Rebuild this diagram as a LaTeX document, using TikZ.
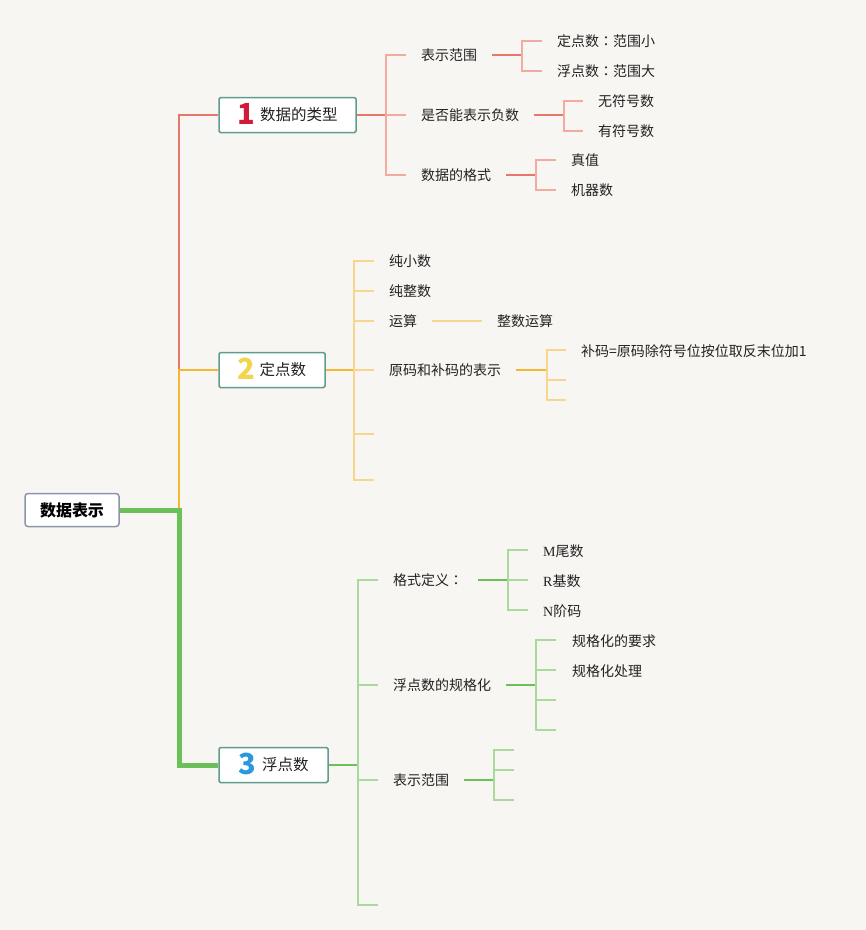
\documentclass[tikz,border=0pt]{standalone}
\usepackage{fontspec}
\usetikzlibrary{calc}
\setmainfont{Noto Sans CJK SC}
\newfontfamily\serifletter{Liberation Serif}
\newfontfamily\tcfont{Noto Sans CJK TC}
\definecolor{bgc}{HTML}{F8F6F2}
\definecolor{redM}{HTML}{E8766A}
\definecolor{redL}{HTML}{F3ABA0}
\definecolor{orM}{HTML}{F4B730}
\definecolor{orL}{HTML}{F8D58E}
\definecolor{grM}{HTML}{6CC05A}
\definecolor{grL}{HTML}{A9D99B}
\definecolor{tealB}{HTML}{5E9C8C}
\definecolor{rootB}{HTML}{8A94AA}
\definecolor{numA}{HTML}{D21A3A}
\definecolor{numB}{HTML}{F2D54A}
\definecolor{numC}{HTML}{2A98DC}
\definecolor{txt}{HTML}{222222}
\tikzset{
  topicbox/.style={draw=tealB, line width=1.5pt, fill=white, rounded corners=1.5pt,
    minimum height=35pt, inner sep=0pt, text=txt, font=\fontsize{15.5}{18}\selectfont},
  rootbox/.style={draw=rootB, line width=1.5pt, fill=white, rounded corners=3pt,
    minimum width=94pt, minimum height=33pt, inner sep=0pt, text=black,
    font=\fontsize{16}{18}\selectfont\bfseries},
  lbl/.style={anchor=west, inner sep=0pt, text=txt, font=\fontsize{14}{16}\selectfont},
  rm/.style={draw=redM, line width=2pt},
  rl/.style={draw=redL, line width=1.5pt},
  om/.style={draw=orM, line width=2pt},
  ol/.style={draw=orL, line width=1.5pt},
  gm/.style={draw=grM, line width=2pt},
  gl/.style={draw=grL, line width=1.5pt},
}
\begin{document}
\begin{tikzpicture}[x=1pt,y=-1pt]
\fill[bgc] (0,0) rectangle (866,930);
\useasboundingbox (0,0) rectangle (866,930);

% root and main topics
\node[rootbox] (root) at (72,510) {数据表示};
\node[topicbox, minimum width=137pt] (t1) at (287.5,115)
  {\smash{\raisebox{-3.5pt}{\color{numA}\fontsize{29}{29}\selectfont\bfseries 1}}\hspace{5pt}数据的类型};
\node[topicbox, minimum width=106pt] (t2) at (272,370)
  {\smash{\raisebox{-3.5pt}{\color{numB}\fontsize{29}{29}\selectfont\bfseries 2}}\hspace{4pt}定点数};
\node[topicbox, minimum width=109pt] (t3) at (273.5,765)
  {\smash{\raisebox{-3.5pt}{\color{numC}\fontsize{29}{29}\selectfont\bfseries 3}}\hspace{6pt}浮点数};

\coordinate (jA) at (179,510);
\coordinate (jB) at (179,370);
\draw[redM, line width=2pt] (jB) |- (t1.west);
\draw[orM, line width=2.5pt] (jA) -- (jB) -- (t2.west);
\draw[grM, line width=5pt] (root.east) -- (jA) |- (t3.west);

% ---------------- branch 1 ----------------
\coordinate (b1) at (386,115);
\draw[rm] (t1.east) -- (b1);
\node[lbl] (a1) at (421,55) {表示范围};
\node[lbl] (a2) at (421,115) {是否能表示负数};
\node[lbl] (a3) at (421,175) {数据的格式};
\draw[rl] ($(a1.west)+(-15,0)$) -- (386,55) -- (386,175) -- ($(a3.west)+(-15,0)$);
\draw[rl] (b1) -- ($(a2.west)+(-15,0)$);

% 表示范围
\node[lbl] (a11) at (557,41) {定点数{\tcfont ：}范围小};
\node[lbl] (a12) at (557,71) {浮点数{\tcfont ：}范围大};
\coordinate (a1j) at (522,55);
\draw[rm] (492,55) -- (a1j);
\draw[rl] ($(a11.west)+(-15,0)$) -- (522,41) -- (522,71) -- ($(a12.west)+(-15,0)$);
% 是否能表示负数
\node[lbl] (a21) at (598,101) {无符号数};
\node[lbl] (a22) at (598,131) {有符号数};
\coordinate (a2j) at (564,115);
\draw[rm] (534,115) -- (a2j);
\draw[rl] ($(a21.west)+(-15,0)$) -- (564,101) -- (564,131) -- ($(a22.west)+(-15,0)$);
% 数据的格式
\node[lbl] (a31) at (571,160) {真值};
\node[lbl] (a32) at (571,190) {机器数};
\coordinate (a3j) at (536,175);
\draw[rm] (506,175) -- (a3j);
\draw[rl] ($(a31.west)+(-15,0)$) -- (536,160) -- (536,190) -- ($(a32.west)+(-15,0)$);

% ---------------- branch 2 ----------------
\coordinate (b2) at (354,370);
\draw[om] (t2.east) -- (b2);
\node[lbl] (c1) at (389,261) {纯小数};
\node[lbl] (c2) at (389,291) {纯整数};
\node[lbl] (c3) at (389,321) {运算};
\node[lbl] (c4) at (389,370) {原码和补码的表示};
\draw[ol] (374,261) -- (354,261) -- (354,480) -- (374,480);
\draw[ol] (354,291) -- (374,291);
\draw[ol] (354,321) -- (374,321);
\draw[ol] (354,370) -- (374,370);
\draw[ol] (354,434) -- (374,434);
% 运算
\node[lbl] (c31) at (497,321) {整数运算};
\draw[ol] (432,321) -- (482,321);
% 原码和补码
\node[lbl] (c41) at (581,351) {补码=原码除符号位按位取反末位加1};
\draw[om] (516,370) -- (547,370);
\draw[ol] (566,350) -- (547,350) -- (547,400) -- (566,400);
\draw[ol] (547,380) -- (566,380);

% ---------------- branch 3 ----------------
\coordinate (b3) at (358,765);
\draw[gm] (t3.east) -- (b3);
\node[lbl] (d1) at (393,580) {格式定义{\tcfont ：}};
\node[lbl] (d2) at (393,685) {浮点数的规格化};
\node[lbl] (d3) at (393,780) {表示范围};
\draw[gl] (378,580) -- (358,580) -- (358,905) -- (378,905);
\draw[gl] (358,685) -- (378,685);
\draw[gl] (358,780) -- (378,780);
% 格式定义
\node[lbl] (d11) at (543,551) {{\serifletter M}尾数};
\node[lbl] (d12) at (543,581) {{\serifletter R}基数};
\node[lbl] (d13) at (543,611) {{\serifletter N}阶码};
\draw[gm] (478,580) -- (508,580);
\draw[gl] (528,550) -- (508,550) -- (508,610) -- (528,610);
\draw[gl] (508,580) -- (528,580);
% 规格化
\node[lbl] (d21) at (572,641) {规格化的要求};
\node[lbl] (d22) at (572,671) {规格化处理};
\draw[gm] (506,685) -- (536,685);
\draw[gl] (556,640) -- (536,640) -- (536,730) -- (556,730);
\draw[gl] (536,670) -- (556,670);
\draw[gl] (536,700) -- (556,700);
% 表示范围
\draw[gm] (464,780) -- (494,780);
\draw[gl] (514,750) -- (494,750) -- (494,800) -- (514,800);
\draw[gl] (494,770) -- (514,770);
\end{tikzpicture}
\end{document}
